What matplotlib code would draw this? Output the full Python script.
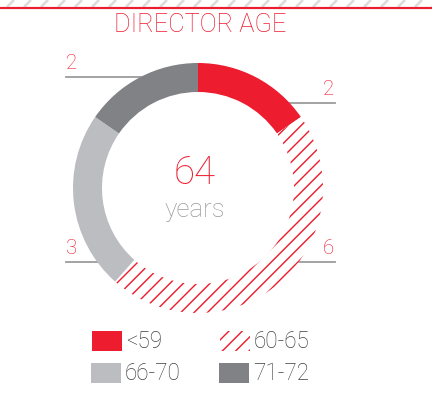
import numpy as np
import matplotlib.pyplot as plt
from matplotlib.patches import Rectangle

plt.rcParams['font.family'] = ['Roboto', 'DejaVu Sans']
plt.rcParams['hatch.linewidth'] = 0.85

# data
groups = ['<59', '60-65', '66-70', '71-72']
counts = [2, 6, 3, 2]
avg_age = 64

RED = '#ed1c2e'
LGRAY = '#bcbdc1'
DGRAY = '#808285'
colors = [RED, 'white', LGRAY, DGRAY]
hatches = [None, '///', None, None]

W, H = 432, 402
fig = plt.figure(figsize=(3.6, 3.35), dpi=120)
ax = fig.add_axes([0, 0, 1, 1])

# top band: gray diagonal stripes + red rule
for x0 in range(-10, W + 20, 17):
    ax.plot([x0, x0 + 7], [H - 7, H], color='#dcdcdc', lw=1.6, solid_capstyle='butt')
ax.axhline(H - 8, color=RED, lw=1.3)

ax.text(W / 2 - 16, H - 25, 'DIRECTOR AGE', color=RED, fontsize=15.2,
        fontweight='light', ha='center', va='center')

# donut
cx, cy, R = 198, H - 188, 125
wedges, _ = ax.pie(counts, colors=colors, startangle=90, counterclock=False,
                   radius=R, center=(cx, cy), frame=True,
                   wedgeprops=dict(width=29, linewidth=0, edgecolor=RED))
for w, h in zip(wedges, hatches):
    w.set_zorder(3)
    if h:
        w.set_hatch(h)
        w.set_edgecolor(RED)

# leader lines + count labels (lines stop at the ring's outer edge)
label_pos = [(328, 103, 'right'), (328, 262, 'right'), (66, 262, 'left'), (66, 77, 'left')]
for (lx, ly, side), n in zip(label_pos, counts):
    yy = H - ly
    edge = np.sqrt(R ** 2 - (yy - cy) ** 2)
    if side == 'right':
        ax.plot([cx + edge, lx + 7], [yy, yy], color='#9d9d9f', lw=1.1, zorder=1)
        ax.text(lx + 6, yy + 4, str(n), color=RED, fontsize=12.3, fontweight='light',
                ha='right', va='bottom')
    else:
        ax.plot([lx, cx - edge], [yy, yy], color='#9d9d9f', lw=1.1, zorder=1)
        ax.text(lx, yy + 4, str(n), color=RED, fontsize=12.3, fontweight='light',
                ha='left', va='bottom')

# centre text
ax.text(cx - 3, H - 173, str(avg_age), color=RED, fontsize=23, fontweight='light',
        ha='center', va='center')
ax.text(cx - 3, H - 210, 'years', color='#9a9a9c', fontsize=15.5, fontweight='light',
        ha='center', va='center')

# legend
leg_pos = [(92, 331), (220, 331), (91, 363), (219, 363)]
for (lx, ly), g, c, h in zip(leg_pos, groups, colors, hatches):
    if h:
        ax.add_patch(Rectangle((lx, H - ly - 20), 30, 20, facecolor='white',
                               edgecolor=RED, linewidth=0, hatch=h))
    else:
        ax.add_patch(Rectangle((lx, H - ly - 20), 30, 20, facecolor=c, linewidth=0))
    ax.text(lx + 34, H - ly - 10, g, color='#3f3f41', fontsize=13.5,
            fontweight='light', ha='left', va='center')

ax.set_xlim(0, W)
ax.set_ylim(0, H)
ax.set_aspect('equal')
ax.axis('off')

fig.savefig('out.png', dpi=120, facecolor='white')
